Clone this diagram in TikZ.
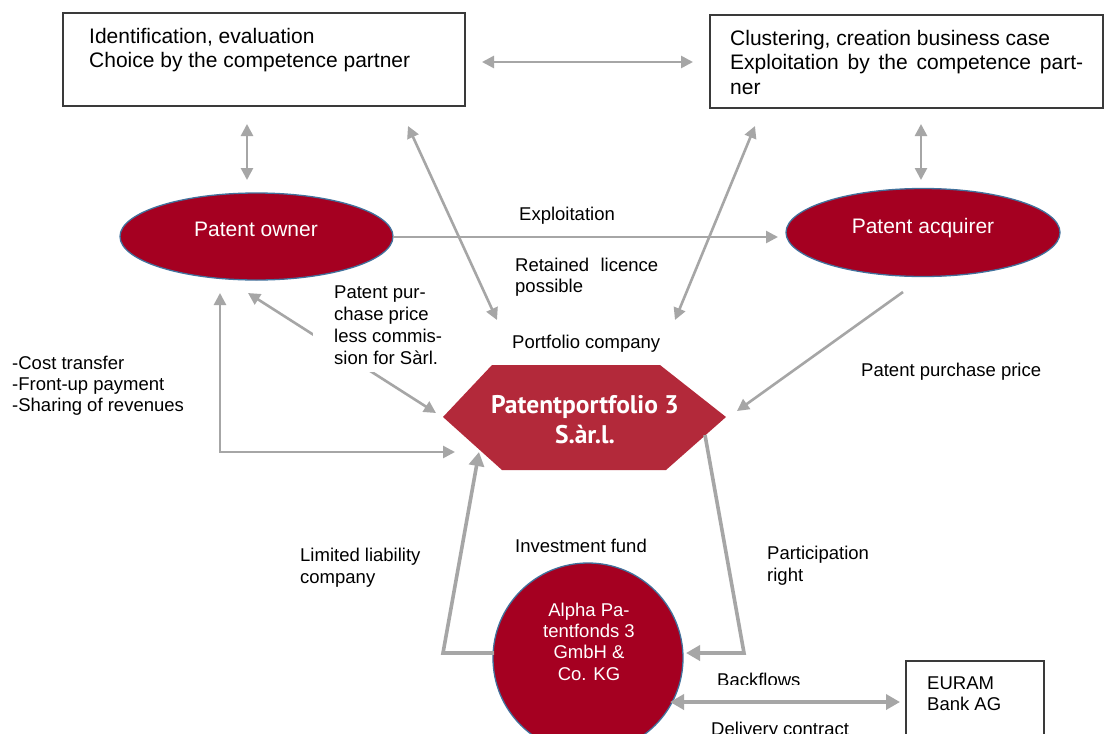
\documentclass[tikz,border=0pt]{standalone}
\usepackage{fontspec}
\setmainfont{Liberation Sans}
\newfontfamily\hexfont{PT Sans}
\usetikzlibrary{shapes.geometric,arrows.meta}
\definecolor{patred}{HTML}{A50021}
\definecolor{hexred}{HTML}{B3293A}
\definecolor{edgeblue}{HTML}{41719C}
\definecolor{arrgray}{HTML}{A6A6A6}
\definecolor{boxline}{HTML}{3A3A3A}
\begin{document}
\begin{tikzpicture}[x=1pt,y=-1pt,
  >={Triangle[length=12pt,width=12pt]},
  conn/.style={draw=arrgray,line width=2.6pt},
  thickconn/.style={draw=arrgray,line width=3.6pt,>={Triangle[length=14pt,width=15pt]}},
  infobox/.style={draw=boxline,line width=1.2pt,fill=white},
  redell/.style={ellipse,fill=patred,draw=edgeblue,line width=1.3pt,inner sep=0pt},
  lbl/.style={anchor=base west,inner sep=0pt,align=left,font=\fontsize{18.5}{21.5}\selectfont},
  biglbl/.style={anchor=base west,inner sep=0pt,align=left},
  whitelbl/.style={text=white,inner sep=0pt,anchor=base,align=center}]
\clip (0,0) rectangle (1104,734);
\fill[white] (0,0) rectangle (1104,734);

% ---- boxes
\draw[infobox] (63,13) rectangle (465,106);
\draw[infobox] (710,15) rectangle (1103,108);
\draw[infobox] (906,661) rectangle (1044,760);
\node[biglbl,font=\fontsize{21}{24}\selectfont] (t1) at (89,67) {Identification, evaluation\\Choice by the competence partner};
\node[biglbl,font=\fontsize{21}{24.5}\selectfont] (t2) at (730,94) {Clustering, creation business case\\\makebox[353pt][s]{Exploitation by the competence part-}\\ner};
\node[lbl,font=\fontsize{18.5}{21}\selectfont] (euram) at (927,710) {EURAM\\Bank AG};

% ---- ellipses
\node[redell,minimum width=273pt,minimum height=87pt] (owner) at (256.5,236.5) {};
\node[whitelbl,font=\fontsize{21}{24}\selectfont] at (256,236) {Patent owner};
\node[redell,minimum width=274pt,minimum height=88pt] (acq) at (923,232.5) {};
\node[whitelbl,font=\fontsize{21}{24}\selectfont] at (923,233) {Patent acquirer};

\node[redell,minimum width=190pt,minimum height=190pt] (alpha) at (588,658) {};
\node[whitelbl,font=\fontsize{18.5}{21.3}\selectfont] (alphatxt) at (589,680) {Alpha Pa-\\tentfonds 3\\GmbH \&\\Co. KG};

% ---- hexagon
\coordinate (hL) at (443,417);
\coordinate (hTL) at (492,365);
\coordinate (hTR) at (660,365);
\coordinate (hR) at (726,417);
\coordinate (hBR) at (666,470);
\coordinate (hBL) at (502,470);
\fill[hexred] (hL) -- (hTL) -- (hTR) -- (hR) -- (hBR) -- (hBL) -- cycle;
\node[whitelbl,font=\hexfont\bfseries\fontsize{25.5}{30}\selectfont] (hex) at (585,443) {Patentportfolio 3\\S.àr.l.};

% ---- connector end points
\coordinate (b1r) at (482,62);
\coordinate (b2l) at (693,62);
\coordinate (b1d) at (247,124);
\coordinate (ownu) at (247,180);
\coordinate (b2d) at (921,124);
\coordinate (acqu) at (921,180);
\coordinate (ownr) at (393,237);
\coordinate (acql) at (778,237);
\coordinate (d1a) at (408,126);
\coordinate (d1b) at (497,320);
\coordinate (d2a) at (755,126);
\coordinate (d2b) at (675,320);
\coordinate (ownd1) at (248,293);
\coordinate (hexul) at (436,413);
\coordinate (ownd2) at (220,293);
\coordinate (lcorner) at (220,452);
\coordinate (hexl) at (455,452);
\coordinate (acqd) at (903,292);
\coordinate (hexr) at (737,411);
\coordinate (alphal) at (494,653);
\coordinate (lcorn2) at (443,653);
\coordinate (hexbl) at (479,452);
\coordinate (hexbr) at (705,435);
\coordinate (rcorn2) at (744,653);
\coordinate (alphar) at (686,653);
\coordinate (alphae) at (670,702);
\coordinate (eurl) at (900,702);

% ---- connectors
\draw[conn,<->] (b1r) -- (b2l);
\draw[conn,<->] (b1d) -- (ownu);
\draw[conn,<->] (b2d) -- (acqu);
\draw[conn,->] (ownr) -- (acql);
\draw[conn,<->] (d1a) -- (d1b);
\draw[conn,<->] (d2a) -- (d2b);
\draw[conn,<->] (ownd1) -- (hexul);
\draw[conn,<->] (ownd2) -- (lcorner) -- (hexl);
\draw[conn,->] (acqd) -- (hexr);
\draw[thickconn,->] (alphal) -- (lcorn2) -- (hexbl);
\draw[thickconn,->] (hexbr) -- (rcorn2) -- (alphar);
\draw[thickconn,<->] (alphae) -- (eurl);

% ---- labels
\fill[white] (313,283) rectangle (452,372);
\node[lbl,font=\fontsize{18.5}{22}\selectfont] (lpp) at (334,364) {Patent pur-\\chase price\\less commis-\\sion for Sàrl.};
\node[lbl] (lexp) at (519,220) {Exploitation};
\node[lbl,font=\fontsize{18.5}{21}\selectfont] (lret) at (515,292) {\makebox[143pt][s]{Retained licence}\\possible};
\node[lbl] (lport) at (512,348) {Portfolio company};
\node[lbl] (lppp) at (861,376) {Patent purchase price};
\node[lbl,font=\fontsize{18.5}{21}\selectfont] (lcost) at (12,411) {-Cost transfer\\-Front-up payment\\-Sharing of revenues};
\node[lbl,font=\fontsize{18.5}{22}\selectfont] (llim) at (300,583) {Limited liability\\company};
\node[lbl] (linv) at (515,552) {Investment fund};
\node[lbl,font=\fontsize{18.5}{22}\selectfont] (lpart) at (767,581) {Participation\\right};
\begin{scope}
\clip (700,660) rectangle (820,684);
\node[lbl] (lback) at (717,686) {Backflows};
\end{scope}
\node[lbl] (ldel) at (711,735) {Delivery contract};
\end{tikzpicture}
\end{document}
